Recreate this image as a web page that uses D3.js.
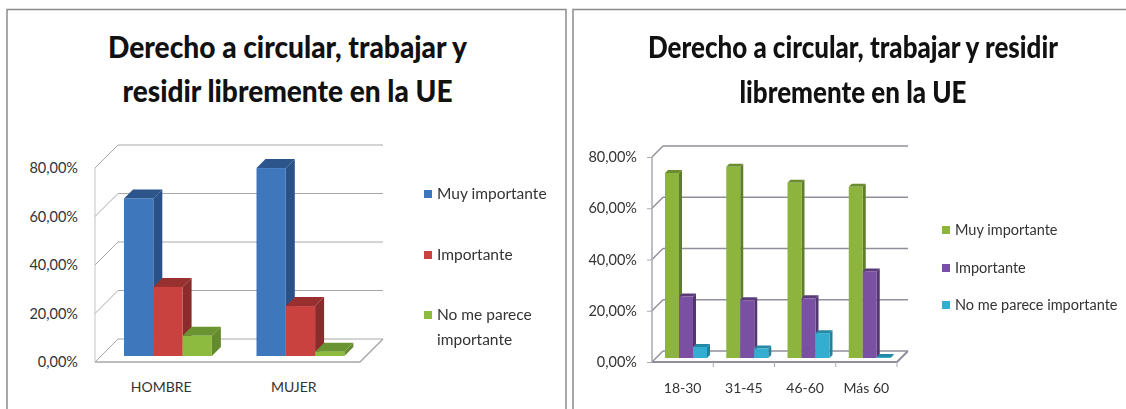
<!DOCTYPE html>
<html>
<head>
<meta charset="utf-8">
<script src="https://cdn.jsdelivr.net/npm/d3@7"></script>
<style>
body { margin: 0; background: #fff; }
svg { display: block; filter: blur(0.6px); }
text { font-family: Lato, "Open Sans", sans-serif; fill: #333; }
</style>
</head>
<body>
<div id="chart"></div>
<script>
const width = 1126;
const height = 409;

const series = ["Muy importante", "Importante", "No me parece importante"];
const yTicks = [0, 20, 40, 60, 80];

const sexCategories = ["HOMBRE", "MUJER"];
const sexMuy = [65, 77.5];
const sexImp = [28.5, 20.6];
const sexNo = [8.3, 1.8];

const ageCategories = ["18-30", "31-45", "46-60", "Más 60"];
const ageMuy = [72.2, 74.6, 68.4, 66.8];
const ageImp = [24, 22.5, 23.3, 33.8];
const ageNo = [4.3, 3.7, 9.7, 0.4];

const svg = d3.select("#chart").append("svg").attr("width", width).attr("height", height);

// draws one pseudo-3d column chart inside its own frame
function drawPanel(o) {
    svg.append("rect")
        .attr("x", o.frame[0])
        .attr("y", o.frame[1])
        .attr("width", o.frame[2])
        .attr("height", o.frame[3])
        .attr("fill", "#fff")
        .attr("stroke", "#8c8c8c")
        .attr("stroke-width", 1.5);

    o.title.forEach((t, i) => {
        svg.append("text")
            .attr("x", o.titleX)
            .attr("y", o.titleY[i])
            .attr("text-anchor", "middle")
            .attr("font-size", 29.5)
            .attr("font-weight", 900)
            .attr("textLength", o.titleLen[i])
            .attr("lengthAdjust", "spacingAndGlyphs")
            .style("fill", "#111")
            .text(t);
    });

    const yScale = d3.scaleLinear().domain([0, 80]).range(o.yRange);
    const xScale = d3.scaleBand().domain(o.categories).range(o.xRange);

    const g = svg.append("g");
    const x0 = o.xRange[0], x1 = o.xRange[1];

    // back wall grid + side wall diagonals
    yTicks.forEach(t => {
        g.append("line")
            .attr("x1", x0 + o.depth).attr("x2", x1 + o.depth)
            .attr("y1", yScale(t) - o.depth).attr("y2", yScale(t) - o.depth)
            .attr("stroke", o.gridColor).attr("stroke-width", o.gridWidth);
        g.append("line")
            .attr("x1", x0).attr("x2", x0 + o.depth)
            .attr("y1", yScale(t)).attr("y2", yScale(t) - o.depth)
            .attr("stroke", o.gridColor).attr("stroke-width", o.gridWidth);
    });

    // floor edges
    g.append("path")
        .attr("d", d3.line()([[x0, yScale(0)], [x1, yScale(0)], [x1 + o.depth, yScale(0) - o.depth]]))
        .attr("fill", "none")
        .attr("stroke", o.gridColor)
        .attr("stroke-width", o.gridWidth + 0.5);

    g.append("line")
        .attr("x1", x0).attr("x2", x0)
        .attr("y1", yScale(80)).attr("y2", yScale(0))
        .attr("stroke", o.axisColor).attr("stroke-width", o.gridWidth);

    const yAxis = d3.axisLeft(yScale)
        .tickValues(yTicks)
        .tickSize(o.tick)
        .tickPadding(o.yPad)
        .tickFormat(d => d3.format(".2f")(d).replace(".", ",") + "%");
    const yG = svg.append("g").attr("transform", `translate(${x0},0)`).call(yAxis);
    yG.select(".domain").remove();
    yG.selectAll("line").attr("stroke", o.axisColor);
    yG.selectAll("text").attr("font-size", o.axisFont).style("fill", "#333");

    const xAxis = d3.axisBottom(xScale).tickSize(0).tickPadding(o.xPad);
    const xG = svg.append("g").attr("transform", `translate(0,${yScale(0)})`).call(xAxis);
    xG.select(".domain").remove();
    xG.selectAll("text").attr("font-size", o.catFont).style("fill", "#333");

    if (o.tick > 0) {
        d3.range(1, o.categories.length + 1).forEach(i => {
            g.append("line")
                .attr("x1", x0 + i * xScale.step()).attr("x2", x0 + i * xScale.step())
                .attr("y1", yScale(0)).attr("y2", yScale(0) + o.tick)
                .attr("stroke", o.axisColor);
        });
    }

    // columns, drawn back to front within each group
    o.categories.forEach((cat, c) => {
        o.values.forEach((vals, s) => {
            const col = o.colors[s];
            const left = xScale(cat) + o.barStart + s * o.barW;
            const right = left + o.barW;
            const base = yScale(0) - o.barOff;
            const top = yScale(vals[c]) - o.barOff;
            const d = o.barDepth;
            g.append("path")
                .attr("d", d3.line()([[right, base], [right + d, base - d], [right + d, top - d], [right, top]]) + "Z")
                .attr("fill", col.side);
            g.append("path")
                .attr("d", d3.line()([[left, top], [left + d, top - d], [right + d, top - d], [right, top]]) + "Z")
                .attr("fill", col.top);
            g.append("rect")
                .attr("x", left)
                .attr("y", top)
                .attr("width", o.barW)
                .attr("height", base - top)
                .attr("fill", col.front);
        });
    });

    // legend
    o.legend.forEach((l, i) => {
        svg.append("rect")
            .attr("x", o.legendX)
            .attr("y", l.y - 4)
            .attr("width", 8)
            .attr("height", 8)
            .attr("fill", o.colors[i].front);
        l.lines.forEach((line, k) => {
            svg.append("text")
                .attr("x", o.legendX + o.legendGap)
                .attr("y", l.y + 5 + k * 25)
                .attr("font-size", o.legendFont)
                .text(line);
        });
    });
}

drawPanel({
    frame: [7, 9.5, 559, 420],
    title: ["Derecho a circular, trabajar y", "residir libremente en la UE"],
    titleX: 287.5,
    titleY: [58, 102],
    titleLen: [359, 330],
    categories: sexCategories,
    values: [sexMuy, sexImp, sexNo],
    colors: [
        { front: "#3f77bd", side: "#2b5288", top: "#2c558c" },
        { front: "#c9423f", side: "#8a2c2b", top: "#97302e" },
        { front: "#8dbb40", side: "#648a2e", top: "#6a9432" }
    ],
    yRange: [362, 168],
    xRange: [95, 360],
    depth: 23,
    gridColor: "#a8a8a8",
    axisColor: "#c4c4c4",
    gridWidth: 1,
    tick: 0,
    yPad: 17,
    xPad: 20,
    axisFont: 14.5,
    catFont: 14,
    barStart: 29,
    barW: 29.3,
    barOff: 6,
    barDepth: 9,
    legendX: 424,
    legendGap: 13,
    legendFont: 15.5,
    legend: [
        { y: 194, lines: ["Muy importante"] },
        { y: 255, lines: ["Importante"] },
        { y: 315, lines: ["No me parece", "importante"] }
    ]
});

drawPanel({
    frame: [573, 9.5, 600, 420],
    title: ["Derecho a circular, trabajar y residir", "libremente en la UE"],
    titleX: 853,
    titleY: [58, 103],
    titleLen: [410, 227],
    categories: ageCategories,
    values: [ageMuy, ageImp, ageNo],
    colors: [
        { front: "#8db53e", side: "#5f7d2b", top: "#6b8c31" },
        { front: "#7a50a3", side: "#54366f", top: "#5b3b7a" },
        { front: "#33aed0", side: "#23819c", top: "#2589a5" }
    ],
    yRange: [362, 157],
    xRange: [652, 897],
    depth: 11,
    gridColor: "#8f8f9b",
    axisColor: "#a9a9b2",
    gridWidth: 1.5,
    tick: 5,
    yPad: 10,
    xPad: 21,
    axisFont: 14.5,
    catFont: 14,
    barStart: 13,
    barW: 14,
    barOff: 4,
    barDepth: 3,
    legendX: 942,
    legendGap: 13,
    legendFont: 14.5,
    legend: [
        { y: 230, lines: ["Muy importante"] },
        { y: 268, lines: ["Importante"] },
        { y: 305, lines: ["No me parece importante"] }
    ]
});
</script>
</body>
</html>
